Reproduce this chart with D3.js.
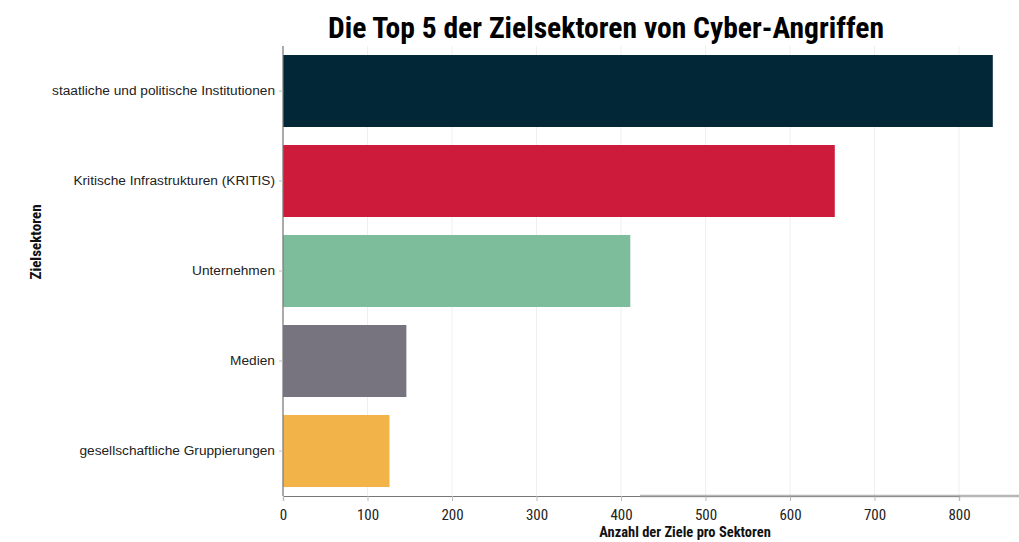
<!DOCTYPE html>
<html>
<head>
<meta charset="utf-8">
<script src="https://cdn.jsdelivr.net/npm/d3@7"></script>
<style>
  html, body { margin: 0; padding: 0; background: #ffffff; }
  svg { display: block; }
</style>
</head>
<body>
<svg id="chart" width="1019" height="542"></svg>
<script>
// Sectors targeted by cyber attacks, number of targets per sector
const sectors = [
  "staatliche und politische Institutionen",
  "Kritische Infrastrukturen (KRITIS)",
  "Unternehmen",
  "Medien",
  "gesellschaftliche Gruppierungen"
];
const targetCounts = [840, 653, 411, 146, 126];
const barColors = ["#022838", "#cd1b3b", "#7dbd9c", "#78747f", "#f2b449"];
const xTicks = [0, 100, 200, 300, 400, 500, 600, 700, 800];

const svg = d3.select("#chart");
const width = 1019, height = 542;
const margin = { left: 283, right: 60, top: 46, bottom: 46 };

const x = d3.scaleLinear()
  .domain([0, 800])
  .range([margin.left, 959]);

const y = d3.scaleBand()
  .domain(sectors)
  .range([margin.top, height - margin.bottom])
  .paddingInner(0.2)
  .paddingOuter(0.1);

const narrow = "'Liberation Sans Narrow', 'Roboto Condensed', 'Liberation Sans', sans-serif";
const body = "'Liberation Sans', Arial, sans-serif";

// vertical grid lines
svg.append("g")
  .selectAll("line")
  .data(xTicks)
  .join("line")
  .attr("x1", d => x(d)).attr("x2", d => x(d))
  .attr("y1", margin.top).attr("y2", height - margin.bottom)
  .attr("stroke", "#efefef")
  .attr("stroke-width", 1);

// bars
svg.append("g")
  .selectAll("rect")
  .data(sectors)
  .join("rect")
  .attr("x", x(0))
  .attr("y", d => y(d))
  .attr("width", (d, i) => x(targetCounts[i]) - x(0))
  .attr("height", y.bandwidth())
  .attr("fill", (d, i) => barColors[i]);

// x axis
const xAxis = svg.append("g")
  .attr("transform", `translate(0,${height - margin.bottom})`)
  .call(d3.axisBottom(x).tickValues(xTicks).tickSize(5).tickPadding(8));
xAxis.select(".domain").attr("stroke", "#777").attr("stroke-width", 1.2);
xAxis.selectAll(".tick line").attr("stroke", "#bbb");
xAxis.selectAll("text")
  .attr("font-family", narrow)
  .attr("font-size", 15)
  .attr("fill", "#222");

// baseline continuation to the right edge
svg.append("line")
  .attr("x1", 640).attr("x2", width)
  .attr("y1", height - margin.bottom).attr("y2", height - margin.bottom)
  .attr("stroke", "#999")
  .attr("stroke-width", 2.5)
  .attr("opacity", 0.7);

// y axis
const yAxis = svg.append("g")
  .attr("transform", `translate(${margin.left},0)`)
  .call(d3.axisLeft(y).tickSize(4).tickPadding(4));
yAxis.select(".domain").attr("stroke", "#777").attr("stroke-width", 1.2)
  .attr("d", `M0,${margin.top}V${height - margin.bottom}`);
yAxis.selectAll(".tick line").attr("stroke", "#bbb");
yAxis.selectAll("text")
  .attr("font-family", body)
  .attr("font-size", 13.7)
  .attr("fill", "#222");

// title
svg.append("text")
  .attr("x", 606).attr("y", 38)
  .attr("text-anchor", "middle")
  .attr("font-family", narrow)
  .attr("font-weight", "bold")
  .attr("font-size", 29)
  .attr("textLength", 556)
  .attr("lengthAdjust", "spacingAndGlyphs")
  .attr("fill", "#000")
  .text("Die Top 5 der Zielsektoren von Cyber-Angriffen");

// axis titles
svg.append("text")
  .attr("x", 685).attr("y", 537)
  .attr("text-anchor", "middle")
  .attr("font-family", narrow)
  .attr("font-weight", "bold")
  .attr("font-size", 14.5)
  .attr("fill", "#111")
  .text("Anzahl der Ziele pro Sektoren");

svg.append("text")
  .attr("transform", "translate(41,242) rotate(-90)")
  .attr("text-anchor", "middle")
  .attr("font-family", narrow)
  .attr("font-weight", "bold")
  .attr("font-size", 15)
  .attr("fill", "#111")
  .text("Zielsektoren");
</script>
</body>
</html>
